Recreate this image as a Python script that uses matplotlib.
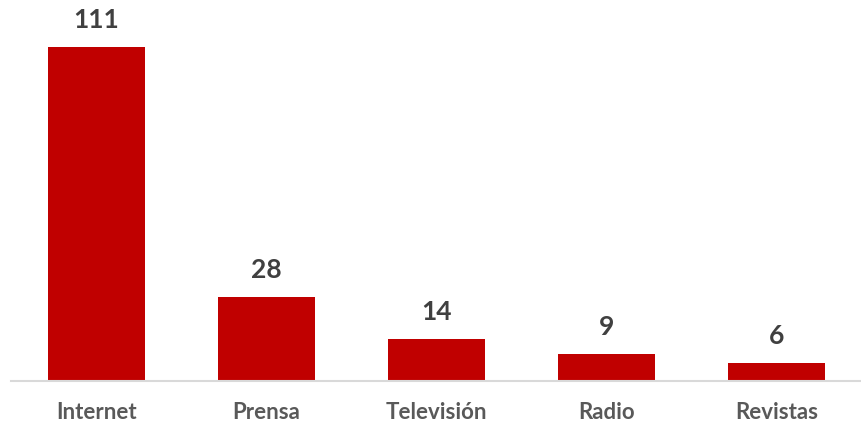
import matplotlib
matplotlib.use('Agg')
import matplotlib.pyplot as plt

# medios de comunicacion
categories = ['Internet', 'Prensa', 'Televisión', 'Radio', 'Revistas']
values = [111, 28, 14, 9, 6]

bar_color = '#C00000'

fig = plt.figure(figsize=(8.62, 4.23), dpi=100)
ax = fig.add_axes([11 / 862, 42 / 423, 851 / 862, 381 / 423])

x = range(len(categories))
ax.bar(x, values, width=0.57, color=bar_color)

for i, v in enumerate(values):
    ax.text(i, v + 5, str(v), ha='center', va='bottom', fontsize=19,
            fontweight='bold', family='Lato', color='#404040')

ax.set_xlim(-0.5, len(categories) - 0.5)
ax.set_ylim(0, 126.6)
ax.set_xticks(list(x))
ax.set_xticklabels(categories, fontsize=16, fontweight='bold', family='Lato',
                   color='#595959')
ax.tick_params(axis='x', length=0, pad=15)
ax.set_yticks([])

for s in ['top', 'right', 'left']:
    ax.spines[s].set_visible(False)
ax.spines['bottom'].set_color('#D9D9D9')
ax.spines['bottom'].set_linewidth(1.5)

plt.savefig('out.png', dpi=100)
